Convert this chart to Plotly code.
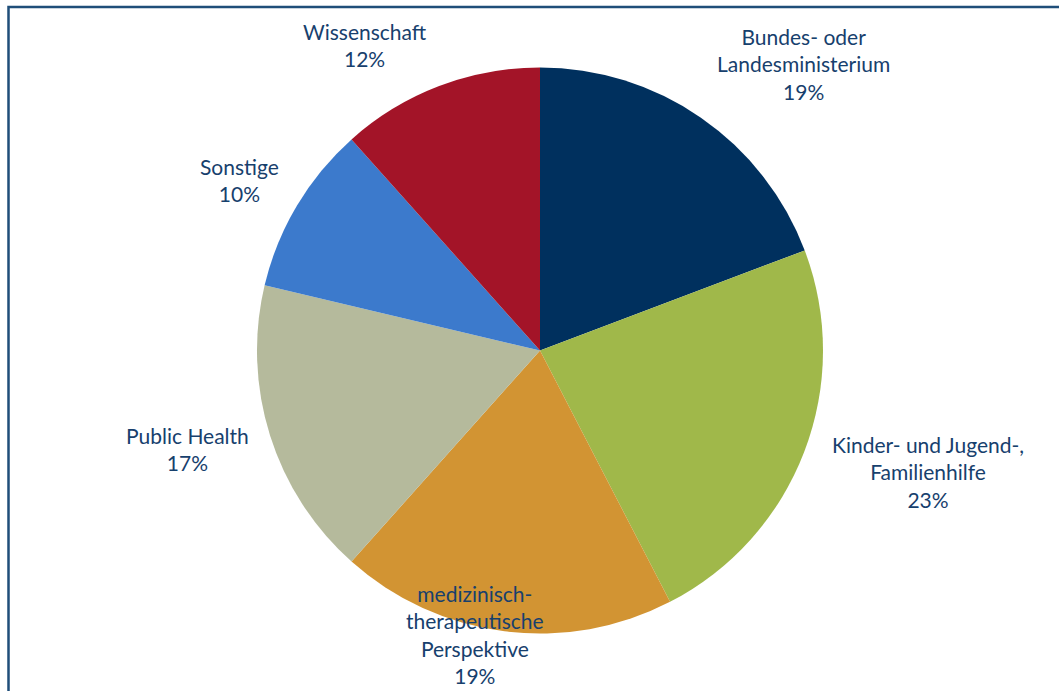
import plotly.graph_objects as go

labels = ["Bundes- oder<br>Landesministerium", "Kinder- und Jugend-,<br>Familienhilfe",
          "medizinisch-<br>therapeutische<br>Perspektive", "Public Health", "Sonstige", "Wissenschaft"]
values = [19.25, 23.15, 19.2, 17.1, 9.7, 11.6]
colors = ["#00305E", "#A0B84A", "#D29433", "#B5BA9C", "#3C7ACC", "#A31428"]
# label anchor positions (pixels in 1059x691 canvas)
label_pos = [(803, 64), (928, 472), (475, 634), (187, 449), (239, 180), (365, 45)]

W, H = 1059, 691
total = sum(values)

fig = go.Figure(go.Pie(
    labels=[l.replace("<br>", " ") for l in labels], values=values, sort=False,
    direction="clockwise", rotation=0,
    marker=dict(colors=colors, line=dict(width=0)),
    textinfo="none", hoverinfo="label+percent", showlegend=False,
    domain=dict(x=[257 / W, 823 / W], y=[57 / H, 624 / H]),
))

anns = []
for lab, v, (px, py) in zip(labels, values, label_pos):
    anns.append(dict(
        text=f"{lab}<br>{round(v / total * 100)}%", x=px / W, y=1 - py / H,
        xref="paper", yref="paper", xanchor="center", yanchor="middle",
        showarrow=False, align="center",
        font=dict(family="Lato", size=21, color="#17406D"),
    ))

fig.update_layout(
    width=W, height=H, margin=dict(l=0, r=0, t=0, b=0),
    paper_bgcolor="white", plot_bgcolor="white",
    annotations=anns,
    shapes=[dict(type="rect", xref="paper", yref="paper",
                 x0=8.5 / W, x1=1.05, y0=-0.05, y1=1 - 7 / H,
                 line=dict(color="#1F4E79", width=2.5))],
)
fig.write_html("out.html")
